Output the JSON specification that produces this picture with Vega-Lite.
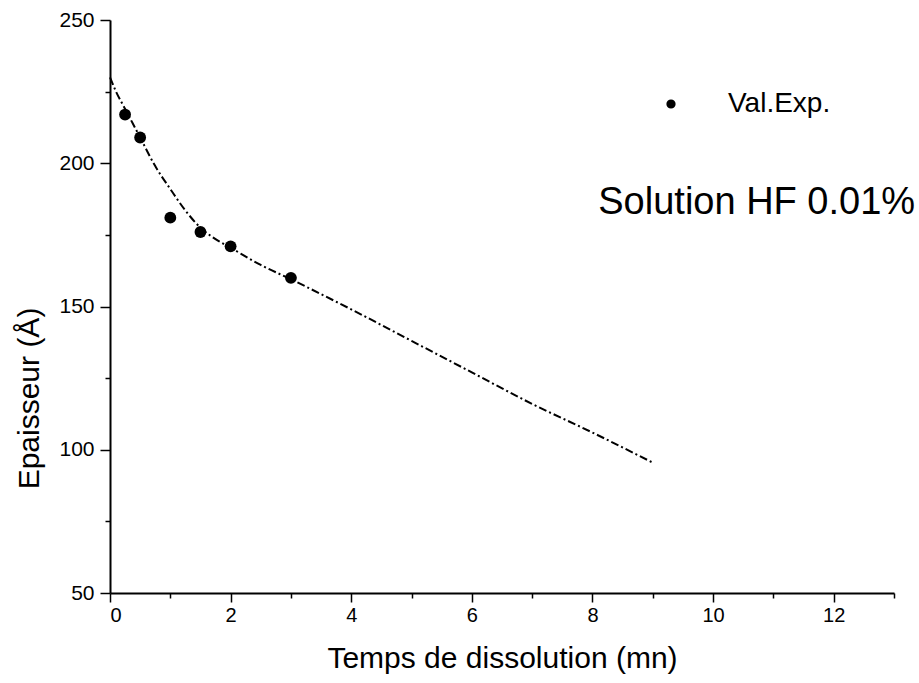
{
  "$schema": "https://vega.github.io/schema/vega-lite/v6.json",
  "autosize": "none",
  "width": 784,
  "height": 573,
  "padding": {"left": 110, "top": 20, "right": 25, "bottom": 90},
  "background": "white",
  "config": {
    "view": {"stroke": null},
    "font": "Liberation Sans",
    "axis": {"grid": false, "domainColor": "black", "domainWidth": 2, "tickColor": "black", "tickWidth": 1.5, "labelColor": "black", "titleColor": "black", "labelFont": "Liberation Sans", "titleFont": "Liberation Sans", "titleFontWeight": "normal"}
  },
  "datasets": {
    "pts": [
      {"t": 0.25, "e": 217, "serie": "Val.Exp."},
      {"t": 0.5, "e": 209, "serie": "Val.Exp."},
      {"t": 1.0, "e": 181, "serie": "Val.Exp."},
      {"t": 1.5, "e": 176, "serie": "Val.Exp."},
      {"t": 2.0, "e": 171, "serie": "Val.Exp."},
      {"t": 3.0, "e": 160, "serie": "Val.Exp."}
    ],
    "fit": [
      {"t": 0, "e": 230},
      {"t": 0.1, "e": 225},
      {"t": 0.25, "e": 219},
      {"t": 0.5, "e": 209},
      {"t": 0.75, "e": 199},
      {"t": 1.0, "e": 191},
      {"t": 1.25, "e": 183.5},
      {"t": 1.5, "e": 177.5},
      {"t": 1.75, "e": 173.5},
      {"t": 2.0, "e": 170.5},
      {"t": 2.5, "e": 164.5},
      {"t": 3.0, "e": 159.5},
      {"t": 4.0, "e": 149},
      {"t": 5.0, "e": 138},
      {"t": 6.0, "e": 127},
      {"t": 7.0, "e": 116},
      {"t": 8.0, "e": 106},
      {"t": 9.0, "e": 95.5}
    ],
    "note": [
      {"t": 13.35, "e": 186, "label": "Solution HF 0.01%"}
    ]
  },
  "layer": [
    {
      "data": {"name": "fit"},
      "mark": {"type": "line", "color": "black", "strokeWidth": 2, "strokeDash": [8, 3, 2, 3], "interpolate": "monotone"},
      "encoding": {
        "x": {"field": "t", "type": "quantitative", "scale": {"domain": [0, 13], "nice": false, "zero": false},
          "axis": {"values": [0,1,2,3,4,5,6,7,8,9,10,11,12,13], "format": "d", "labelExpr": "datum.value % 2 == 0 && datum.value <= 12 ? datum.label : ''",
            "tickSize": {"condition": {"test": "datum.value % 2 != 0", "value": 5}, "value": 9},
            "labelFontSize": 20, "labelPadding": 3, "title": "Temps de dissolution (mn)", "titleFontSize": 30, "titlePadding": 18}},
        "y": {"field": "e", "type": "quantitative", "scale": {"domain": [50, 250], "nice": false, "zero": false},
          "axis": {"values": [50,75,100,125,150,175,200,225,250], "format": "d", "labelExpr": "datum.value % 50 == 0 ? datum.label : ''",
            "tickSize": {"condition": {"test": "datum.value % 50 != 0", "value": 5}, "value": 10},
            "labelFontSize": 21, "labelPadding": 6, "title": "Epaisseur (Å)", "titleFontSize": 30, "titlePadding": 14, "titleY": 378}}
      }
    },
    {
      "data": {"name": "pts"},
      "mark": {"type": "point", "filled": true, "shape": "circle", "size": 140, "opacity": 1},
      "encoding": {
        "x": {"field": "t", "type": "quantitative"},
        "y": {"field": "e", "type": "quantitative"},
        "color": {"field": "serie", "type": "nominal", "scale": {"range": ["black"]},
          "legend": {"orient": "none", "legendX": 547, "legendY": 70, "title": null, "labelFontSize": 28, "labelOffset": 43, "symbolSize": 60, "symbolType": "circle", "symbolFillColor": "black", "symbolStrokeColor": "black", "labelColor": "black", "labelFont": "Liberation Sans"}}
      }
    },
    {
      "data": {"name": "note"},
      "mark": {"type": "text", "align": "right", "baseline": "middle", "fontSize": 38, "font": "Liberation Sans", "color": "black"},
      "encoding": {
        "x": {"field": "t", "type": "quantitative"},
        "y": {"field": "e", "type": "quantitative"},
        "text": {"field": "label"}
      }
    }
  ]
}
